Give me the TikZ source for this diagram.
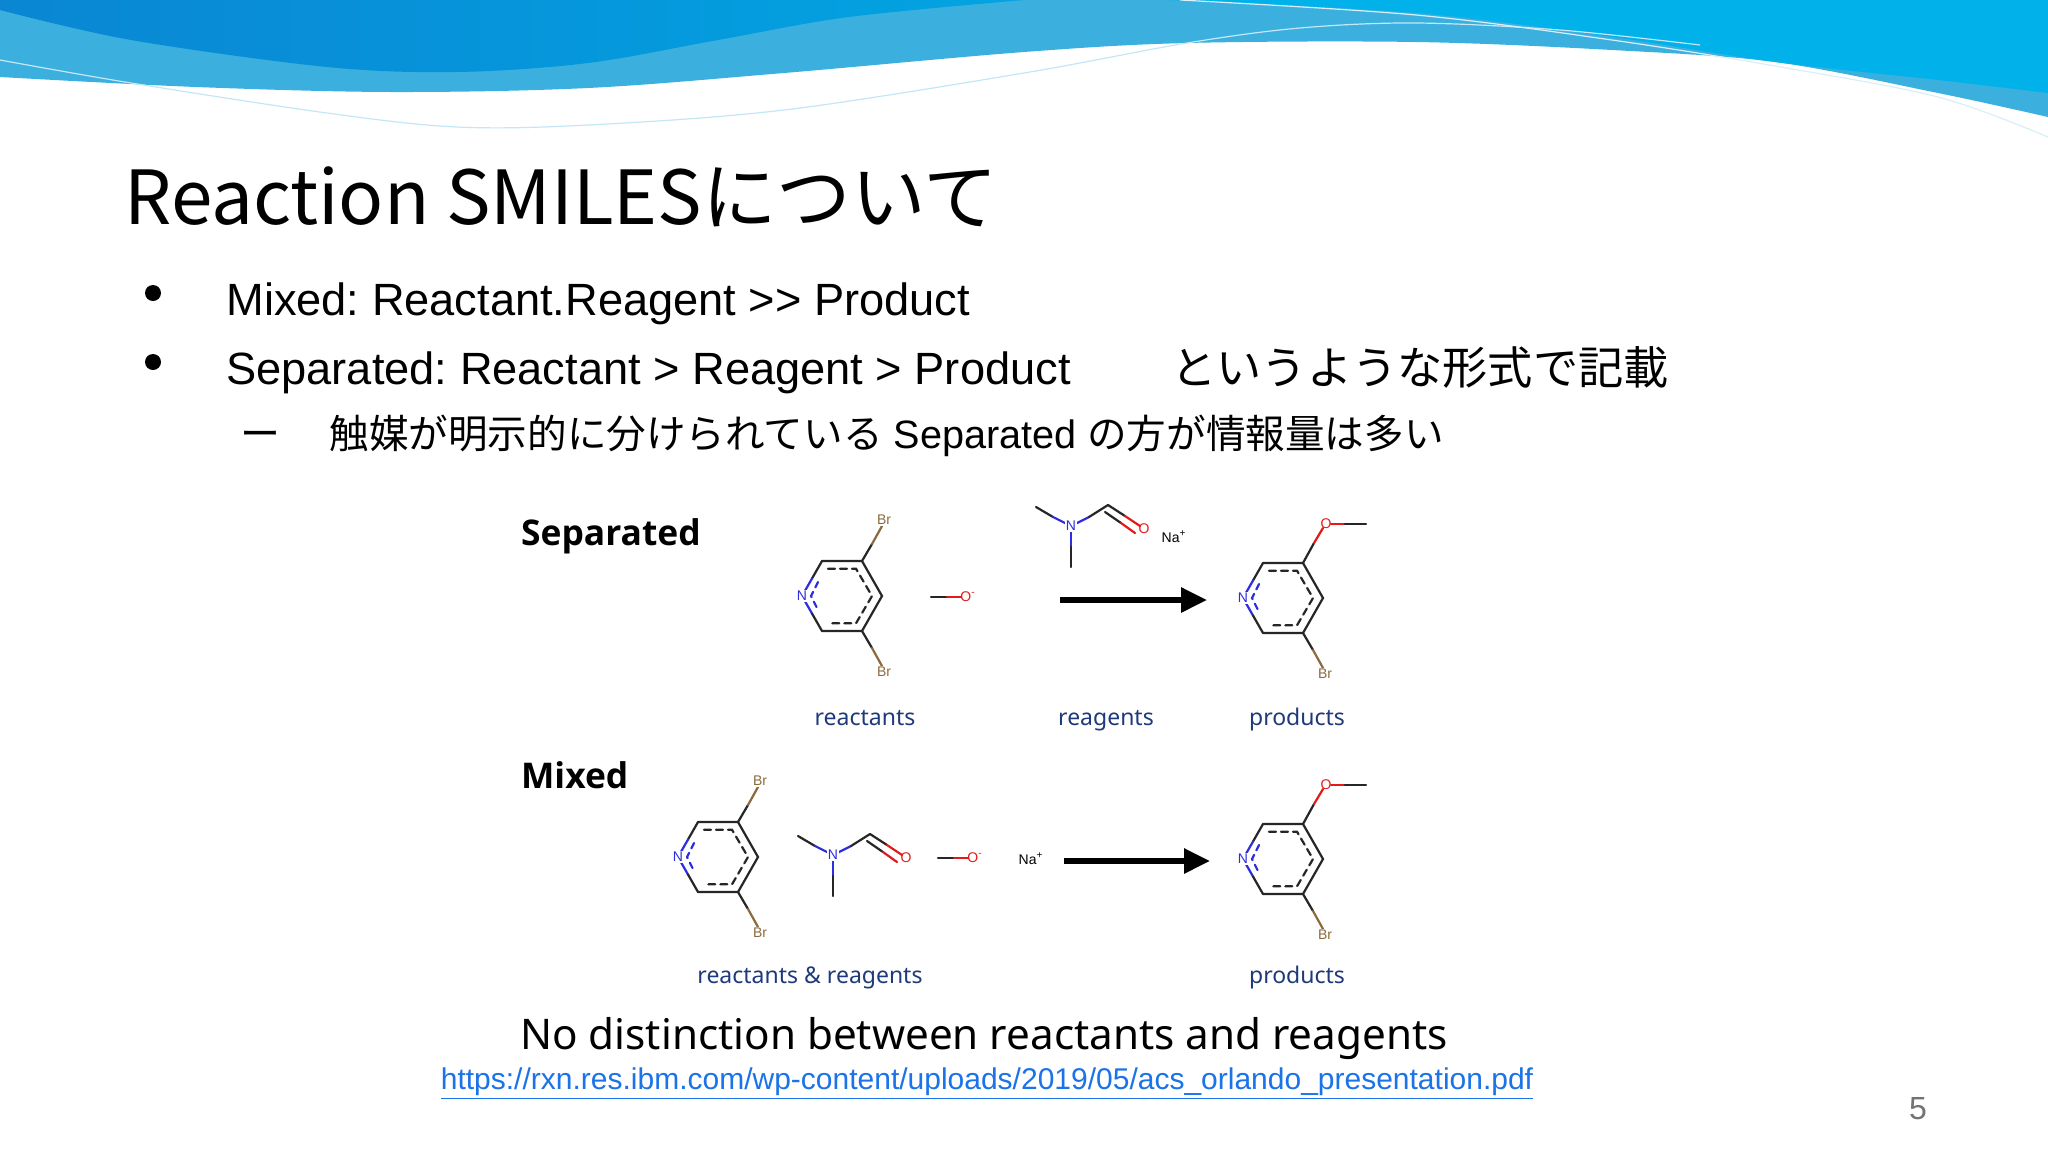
\documentclass[tikz,border=0pt]{standalone}
\usepackage{fontspec}
\setmainfont{Liberation Sans}
\newfontfamily\jp{Noto Sans CJK JP}
\newfontfamily\lab{Noto Sans}
\newfontfamily\hd{Open Sans}
\usetikzlibrary{arrows.meta}
\definecolor{bdark}{HTML}{0A86D2}
\definecolor{bmid}{HTML}{02A4E2}
\definecolor{bbright}{HTML}{00B1EA}
\definecolor{blight}{HTML}{3BB0DF}
\definecolor{thinb}{HTML}{7CC4E4}
\definecolor{brc}{HTML}{8B6A3E}
\definecolor{nc}{HTML}{2E2EDD}
\definecolor{oc}{HTML}{E41A1A}
\definecolor{navy}{HTML}{1F3A7A}
\definecolor{linkc}{HTML}{1A73E8}
\tikzset{
  bond/.style={line width=1.1pt,black!85,line cap=round},
  atom/.style={font=\fontsize{7}{8}\selectfont,inner sep=0.6pt,fill=white},
  lbl/.style={font=\lab\fontsize{11.5}{13}\selectfont,text=navy,anchor=base},
  head/.style={font=\hd\bfseries\fontsize{17.7}{22}\selectfont,anchor=base west},
  rxn/.style={line width=2.9pt,-{Triangle[length=13pt,width=12pt]}},
  bul/.style={circle,fill=black,inner sep=0,minimum size=8pt},
}
\newcommand\pyring[3]{% cx cy top(0=Br,1=OMe)
 \begin{scope}[shift={(#1,#2)}]
  \draw[bond] (-20,-35)--(20,-35)--(40,0)--(20,35)--(-20,35);
  \draw[bond] (-20,-35)--(-30,-17.5);
  \draw[bond,nc] (-30,-17.5)--(-40,0)--(-30,17.5);
  \draw[bond] (-30,17.5)--(-20,35);
  \draw[bond,dash pattern=on 3.5pt off 2.5pt] (-14,-27.3)--(14,-27.3)--(30,0)--(14,27.3)--(-14,27.3);
  \draw[bond,nc,dash pattern=on 3pt off 2.5pt] (-24,-14)--(-31,0)--(-24,14);
  \node[atom,text=nc] at (-40,0) {N};
  \draw[bond] (20,35)--(30,52);
  \draw[bond,brc] (30,52)--(40,70);
  \node[atom,text=brc] at (42,76) {Br};
  \ifnum#3=0
   \draw[bond] (20,-35)--(30,-52);
   \draw[bond,brc] (30,-52)--(40,-70);
   \node[atom,text=brc] at (42,-76) {Br};
  \else
   \draw[bond] (20,-35)--(31,-55);
   \draw[bond,oc] (31,-55)--(40,-70);
   \draw[bond,oc] (48,-74)--(62,-74);
   \draw[bond] (62,-74)--(83,-74);
   \node[atom,text=oc,fill=none] at (43,-74) {O};
  \fi
 \end{scope}}
\newcommand\dmf[2]{%
 \begin{scope}[shift={(#1,#2)}]
  \draw[bond] (0,0)--(17,10);
  \draw[bond,nc] (17,10)--(35,19)--(53,10);
  \draw[bond,nc] (35,19)--(35,40);
  \draw[bond] (35,40)--(35,60);
  \draw[bond] (53,10)--(72,-2);
  \draw[bond] (72,-2)--(89,9);
  \draw[bond,oc] (89,9)--(104,19);
  \draw[bond] (69,5)--(85,16);
  \draw[bond,oc] (85,16)--(99,26);
  \node[atom,text=nc,fill=white] at (35,19) {N};
  \node[atom,text=oc,fill=none] at (108,22) {O};
 \end{scope}}
\newcommand\meo[2]{%
 \begin{scope}[shift={(#1,#2)}]
  \draw[bond] (0,0)--(16,0);
  \draw[bond,oc] (16,0)--(30,0);
  \node[atom,text=oc,fill=none] at (37,0) {O\textsuperscript{-}};
 \end{scope}}
\begin{document}
\frenchspacing
\begin{tikzpicture}[x=0.5pt,y=-0.5pt]
\useasboundingbox (0,0) rectangle (2048,1152);
\fill[white] (0,0) rectangle (2048,1152);
% waves
\fill[blight] plot[smooth,tension=0.55] coordinates {(0,77) (196,87) (392,92) (588,88) (784,73) (1024,52) (1187,43) (1416,42) (1612,50) (1775,62) (1938,93) (2048,117)} -- (2048,0) -- (0,0) -- cycle;
\shade[left color=bdark,right color=bmid] plot[smooth,tension=0.55] coordinates {(0,10) (131,40) (327,67) (457,72) (588,63) (718,40) (849,17) (1024,0)} -- (0,0) -- cycle;
\fill[bbright] plot[smooth,tension=0.55] coordinates {(1168,0) (1416,13) (1612,37) (1775,62) (1938,80) (2048,93)} -- (2048,0) -- cycle;
\draw[white!70!blight,line width=0.6pt] plot[smooth,tension=0.55] coordinates {(0,60) (131,83) (327,113) (457,127) (588,125) (784,110) (1024,73) (1187,43) (1300,28) (1416,23) (1560,30) (1700,45)};
\draw[white!80!blight,line width=0.6pt] plot[smooth,tension=0.55] coordinates {(1180,0) (1416,15) (1612,40) (1775,66) (1938,97) (2048,137)};
% title
\node[font=\jp\fontsize{37.3}{44}\selectfont,anchor=base west,inner sep=0] (title) at (124,224) {Reaction SMILESについて};
% bullets
\node[bul] (b1) at (153,293) {};
\node[bul] (b2) at (153,362) {};
\node[anchor=base west,inner sep=0,font=\fontsize{22.6}{26}\selectfont] (t1) at (226,315) {Mixed: Reactant.Reagent >{}> Product};
\node[anchor=base west,inner sep=0,font=\fontsize{22.6}{26}\selectfont] (t2) at (226,384) {Separated: Reactant > Reagent > Product};
\node[anchor=base west,inner sep=0,font=\jp\fontsize{22.6}{26}\selectfont] (t2j) at (1171,384) {というような形式で記載};
\node[anchor=base west,inner sep=0,font=\jp\fontsize{20}{24}\selectfont] (dash) at (240,448) {ー};
\node[anchor=base west,inner sep=0,font=\fontsize{19.8}{22}\selectfont] (t3) at (329,448) {{\jp 触媒が明示的に分けられている} Separated {\jp の方が情報量は多い}};
% separated
\node[head] (sep) at (514,545) {Separated};
\pyring{842}{596}{0}
\meo{931}{597}
\dmf{1036}{507}
\node[atom] (na1) at (1174,537) {Na\textsuperscript{+}};
\coordinate (a1s) at (1060,600); \coordinate (a1e) at (1207,600);
\draw[rxn] (a1s) -- (a1e);
\pyring{1283}{598}{1}
\node[lbl] (l1) at (865,725) {reactants};
\node[lbl] (l2) at (1106,725) {reagents};
\node[lbl] (l3) at (1297,725) {products};
% mixed
\node[head] (mix) at (514,788) {Mixed};
\pyring{718}{857}{0}
\dmf{798}{836}
\meo{938}{858}
\node[atom] (na2) at (1031,859) {Na\textsuperscript{+}};
\coordinate (a2s) at (1064,861); \coordinate (a2e) at (1210,861);
\draw[rxn] (a2s) -- (a2e);
\pyring{1283}{859}{1}
\node[lbl] (l4) at (810,983) {reactants \& reagents};
\node[lbl] (l5) at (1297,983) {products};
% bottom
\node[anchor=base,inner sep=0,font=\lab\fontsize{21.1}{26}\selectfont] (nd) at (984,1049) {No distinction between reactants and reagents};
\node[anchor=base,inner sep=0,font=\fontsize{15}{18}\selectfont,text=linkc] (url) at (987,1089) {\underline{https://rxn.res.ibm.com/wp-content/uploads/2019/05/acs\_orlando\_presentation.pdf}};
\node[anchor=base,inner sep=0,font=\fontsize{16}{18}\selectfont,text=black!55] (pg) at (1918,1119) {5};
\end{tikzpicture}
\end{document}
